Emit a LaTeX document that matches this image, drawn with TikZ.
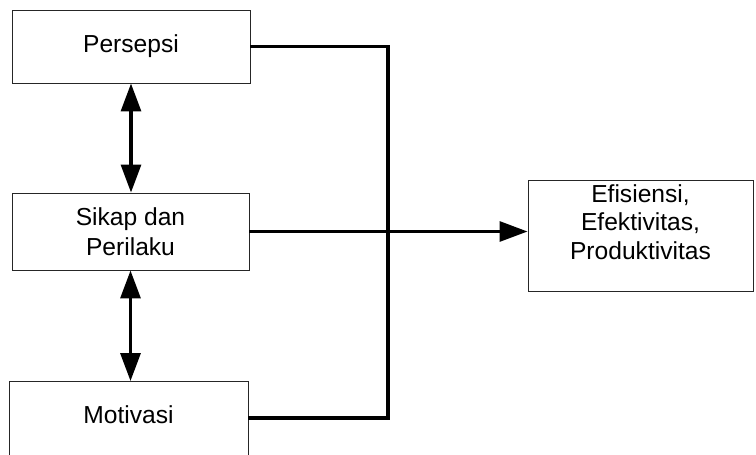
\documentclass[tikz,border=0pt]{standalone}
\usepackage{fontspec}
\setmainfont{Liberation Sans}
\usetikzlibrary{arrows.meta,calc}

\tikzset{
    box/.style={draw=black!85, line width=0.55pt, inner sep=0pt, align=center,
        font=\fontsize{14}{17}\selectfont},
    link/.style={line width=1.8pt},
    tip/.style={-{Triangle[length=5.6mm,width=4mm]}},
    dbltip/.style={{Triangle[length=5.6mm,width=4mm]}-{Triangle[length=5.6mm,width=4mm]}}
}

\begin{document}
\begin{tikzpicture}
    \useasboundingbox (0,0) rectangle (15.12,-9.08);
    \clip (0,0) rectangle (15.12,-9.08);
    \node[box, minimum width=4.76cm, minimum height=1.46cm] (persepsi) at (2.62,-0.93) {Persepsi};
    \node[box, minimum width=4.74cm, minimum height=1.54cm] (sikap) at (2.61,-4.63) {Sikap dan\\Perilaku};
    \node[box, minimum width=4.78cm, anchor=north, text height=0.84cm, text depth=1.6cm] (motivasi) at (2.57,-7.62) {Motivasi};
    \node[box, minimum width=4.5cm, minimum height=2.22cm, text height=1.58cm, text depth=0.64cm,
        font=\fontsize{14}{16}\selectfont] (hasil) at (12.81,-4.71) {Efisiensi,\\Efektivitas,\\Produktivitas};
    \coordinate (busbot) at (7.76,-8.36);
    \draw[link] (persepsi.east) -| (busbot) -- (motivasi.east |- busbot);
    \draw[link, tip] (sikap.east) -- (sikap.east -| hasil.west);
    \draw[link, dbltip] (persepsi.south) -- (persepsi.south |- sikap.north);
    \draw[link, dbltip] (sikap.south) -- (sikap.south |- motivasi.north);
\end{tikzpicture}
\end{document}
